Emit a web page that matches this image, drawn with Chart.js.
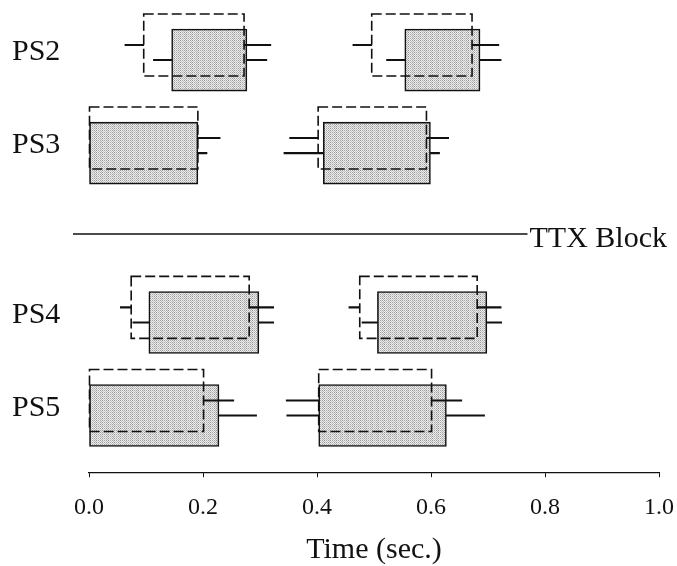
<!DOCTYPE html>
<html>
<head>
<meta charset="utf-8">
<script src="https://cdn.jsdelivr.net/npm/chart.js@4"></script>
<style>
  body { margin: 0; background: #fff; }
  #wrap { width: 677px; height: 566px; }
</style>
</head>
<body>
<div id="wrap"><canvas id="burstChart"></canvas></div>
<script>
// rows of the plot, top to bottom
const rows = ['PS2', 'PS3', 'PS4', 'PS5'];

// dashed outline: onset / offset of the two bursts per row (sec.)
const dashOnset  = [[0.096, 0.496], [0.000, 0.402], [0.074, 0.475], [0.000, 0.403]];
const dashOffset = [[0.272, 0.672], [0.191, 0.592], [0.281, 0.681], [0.201, 0.601]];
const dashOnsetSd  = [[0.033, 0.033], [0.000, 0.050], [0.019, 0.019], [0.000, 0.057]];
const dashOffsetSd = [[0.047, 0.047], [0.039, 0.039], [0.043, 0.042], [0.053, 0.053]];

// shaded box
const fillOnset  = [[0.145, 0.554], [0.000, 0.411], [0.105, 0.506], [0.000, 0.403]];
const fillOffset = [[0.277, 0.686], [0.191, 0.599], [0.298, 0.698], [0.228, 0.627]];
const fillOnsetSd  = [[0.032, 0.032], [0.000, 0.069], [0.028, 0.027], [0.000, 0.056]];
const fillOffsetSd = [[0.035, 0.037], [0.016, 0.016], [0.026, 0.026], [0.066, 0.067]];

const xTicks = [0, 0.2, 0.4, 0.6, 0.8, 1.0];

// layout of the rows on the hidden y scale
const ttxGap = 0.82;
const rowLevel = i => 1 + i + (i >= 2 ? ttxGap : 0);
const pairShift = 0.081;
const ttxLevel = 2.95;

const canvas = document.getElementById('burstChart');

function stipple() {
  const c = document.createElement('canvas');
  c.width = 6; c.height = 6;
  const g = c.getContext('2d');
  const shades = ['#959595', '#b5b5b5', '#a2a2a2', '#c2c2c2', '#aaaaaa', '#cccccc'];
  for (let i = 0; i < 6; i++) {
    for (let j = 0; j < 6; j++) {
      g.fillStyle = (i + j) % 2 ? '#ebebeb' : shades[(i * 2 + j * 3) % 6];
      g.fillRect(i, j, 1, 1);
    }
  }
  return canvas.getContext('2d').createPattern(c, 'repeat');
}

function boxes(on, off, shift) {
  const out = [];
  rows.forEach((r, i) => {
    on[i].forEach((s, k) => out.push({ y: rowLevel(i) + shift, x: [s, off[i][k]] }));
  });
  return out;
}

function whiskers() {
  const out = [];
  const add = (on, off, onSd, offSd, shift) => {
    rows.forEach((r, i) => {
      const y = rowLevel(i) + shift;
      on[i].forEach((s, k) => {
        if (onSd[i][k] > 0) out.push({ y, x: [s - onSd[i][k], s] });
        if (offSd[i][k] > 0) out.push({ y, x: [off[i][k], off[i][k] + offSd[i][k]] });
      });
    });
  };
  add(dashOnset, dashOffset, dashOnsetSd, dashOffsetSd, -pairShift);
  add(fillOnset, fillOffset, fillOnsetSd, fillOffsetSd, pairShift);
  return out;
}

const serif = '"Liberation Serif", "Times New Roman", serif';
Chart.defaults.font.family = serif;
Chart.defaults.color = '#111';

const overlay = {
  id: 'overlay',
  afterDatasetsDraw(chart) {
    const ctx = chart.ctx;
    ctx.save();
    // dashed outlines
    ctx.strokeStyle = '#111';
    ctx.lineWidth = 1.6;
    ctx.setLineDash([10, 4]);
    chart.getDatasetMeta(1).data.forEach(bar => {
      const p = bar.getProps(['x', 'y', 'base', 'height'], true);
      ctx.strokeRect(Math.min(p.x, p.base), p.y - p.height / 2, Math.abs(p.x - p.base), p.height);
    });
    ctx.setLineDash([]);
    // TTX block separator
    const yT = chart.scales.y.getPixelForValue(ttxLevel);
    ctx.font = '30px ' + serif;
    ctx.fillStyle = '#111';
    ctx.textAlign = 'right';
    ctx.textBaseline = 'alphabetic';
    const right = chart.width - 10;
    const w = ctx.measureText('TTX Block').width;
    ctx.fillText('TTX Block', right, yT + 13);
    ctx.lineWidth = 1.3;
    ctx.beginPath();
    ctx.moveTo(chart.chartArea.left - 16, yT);
    ctx.lineTo(right - w - 2, yT);
    ctx.stroke();
    ctx.restore();
  }
};

new Chart(canvas, {
  type: 'bar',
  data: {
    datasets: [
      { label: 'sd', data: whiskers(), backgroundColor: '#111', borderWidth: 0, barThickness: 1.4 },
      { label: 'dashed', data: boxes(dashOnset, dashOffset, -pairShift), backgroundColor: 'rgba(0,0,0,0)', borderWidth: 0, barThickness: 62 },
      { label: 'shaded', data: boxes(fillOnset, fillOffset, pairShift), backgroundColor: stipple(), borderColor: '#111', borderWidth: 1.6, borderSkipped: false, barThickness: 62 }
    ]
  },
  options: {
    indexAxis: 'y',
    responsive: true,
    maintainAspectRatio: false,
    animation: false,
    grouped: false,
    layout: { padding: { top: 6, left: 12, right: 18, bottom: 0 } },
    plugins: { legend: { display: false }, tooltip: { enabled: false } },
    scales: {
      x: {
        type: 'linear',
        min: 0,
        max: 1,
        afterBuildTicks: s => { s.ticks = xTicks.map(v => ({ value: v })); },
        afterFit: s => { s.paddingLeft = 0; s.paddingRight = 0; },
        ticks: { callback: v => v.toFixed(1), font: { size: 24 }, padding: 16, color: '#111', maxRotation: 0 },
        grid: { drawOnChartArea: false, drawTicks: true, tickLength: 5, color: '#111' },
        border: { display: true, color: '#111', width: 1.2 },
        title: { display: true, text: 'Time (sec.)', font: { size: 30 }, color: '#111', padding: { top: -6, bottom: -2 } }
      },
      y: {
        type: 'linear',
        reverse: true,
        min: 0.5,
        max: 5.51,
        offset: false,
        afterBuildTicks: s => { s.ticks = rows.map((r, i) => ({ value: rowLevel(i) })); },
        afterFit: s => { s.width = 77; s.paddingTop = 0; s.paddingBottom = 0; },
        ticks: { callback: (v, i) => rows[i], font: { size: 30 }, color: '#111', crossAlign: 'far', autoSkip: false },
        grid: { display: false },
        border: { display: false }
      }
    }
  },
  plugins: [overlay]
});
</script>
</body>
</html>
